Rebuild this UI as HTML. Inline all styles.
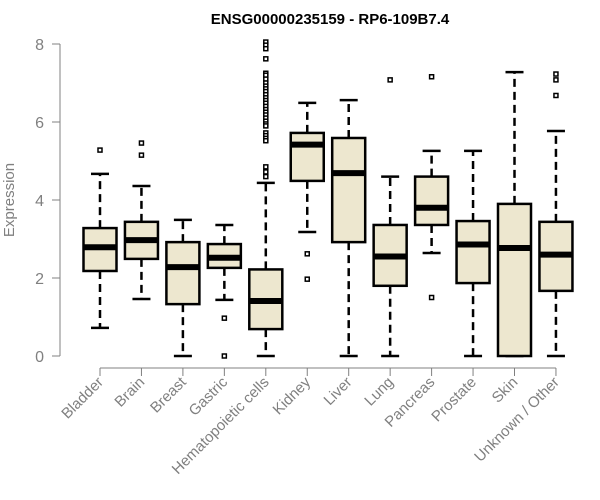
<!DOCTYPE html>
<html><head><meta charset="utf-8"><style>
body{margin:0;background:#fff;}
svg{display:block;font-family:"Liberation Sans",Arial,sans-serif;}
</style></head><body>
<svg id="chart" width="600" height="500">
<text x="330" y="24" text-anchor="middle" font-size="15" font-weight="bold">ENSG00000235159 - RP6-109B7.4</text>
<text transform="translate(14,200) rotate(-90)" text-anchor="middle" font-size="15" fill="#808080">Expression</text>
<g id="yaxis"></g>
<g id="xaxis"></g>
<g id="boxes"></g>
</svg>
<script>
const categories=["Bladder","Brain","Breast","Gastric","Hematopoietic cells","Kidney","Liver","Lung","Pancreas","Prostate","Skin","Unknown / Other"];
const whiskerLow=[0.72,1.46,0,1.44,0,3.18,0,0,2.64,0,0,0];
const q1=[2.18,2.49,1.33,2.26,0.69,4.49,2.92,1.8,3.36,1.87,0,1.67];
const medians=[2.79,2.97,2.28,2.52,1.41,5.42,4.69,2.55,3.8,2.86,2.77,2.6];
const q3=[3.28,3.44,2.92,2.87,2.22,5.72,5.59,3.36,4.6,3.46,3.9,3.44];
const whiskerHigh=[4.67,4.36,3.49,3.36,4.44,6.49,6.56,4.6,5.26,5.26,7.28,5.77];
const outliers=[[5.28],[5.46,5.15],[],[0.97,0],[8.05,7.97,7.88,7.62,7.25,7.2,7.1,7.0,6.92,6.85,6.78,6.7,6.62,6.55,6.48,6.4,6.32,6.25,6.18,6.1,6.02,5.95,5.9,5.72,5.65,5.58,5.52,4.85,4.72,4.6],[2.62,1.97],[],[7.08],[7.16,1.5],[],[],[7.23,7.08,6.68]];
const yTicks=[0,2,4,6,8];
const NS="http://www.w3.org/2000/svg";
const y=v=>356-v*39;
const x=i=>100+i*41.45;
function mk(tag,attrs,parent){const e=document.createElementNS(NS,tag);for(const k in attrs)e.setAttribute(k,attrs[k]);parent.appendChild(e);return e;}
const ya=document.getElementById('yaxis'),xa=document.getElementById('xaxis'),bx=document.getElementById('boxes');
mk('line',{x1:60,x2:60,y1:y(0),y2:y(8),stroke:'#808080','stroke-width':1},ya);
yTicks.forEach(t=>{
 mk('line',{x1:52,x2:60,y1:y(t),y2:y(t),stroke:'#808080'},ya);
 const tx=mk('text',{x:44,y:y(t)+6,'text-anchor':'end','font-size':16,fill:'#808080'},ya);tx.textContent=t;
 
 
});
mk('line',{x1:x(0),x2:x(11),y1:368,y2:368,stroke:'#808080'},xa);
categories.forEach((c,i)=>{
 mk('line',{x1:x(i),x2:x(i),y1:368,y2:376,stroke:'#808080'},xa);
 const t=mk('text',{transform:`translate(${x(i)+4},${383}) rotate(-45)`,'text-anchor':'end','font-size':15,fill:'#808080'},xa);t.textContent=c;
 
 
 const g=mk('g',{},bx);
 
 
 const cx=x(i);
 const dash={stroke:'#000','stroke-width':2.5,'stroke-dasharray':'8,5'};
 mk('line',Object.assign({x1:cx,x2:cx,y1:y(q3[i]),y2:y(whiskerHigh[i])},dash),g);
 mk('line',Object.assign({x1:cx,x2:cx,y1:y(q1[i]),y2:y(whiskerLow[i])},dash),g);
 mk('line',{x1:cx-9,x2:cx+9,y1:y(whiskerHigh[i]),y2:y(whiskerHigh[i]),stroke:'#000','stroke-width':2.5},g);
 mk('line',{x1:cx-9,x2:cx+9,y1:y(whiskerLow[i]),y2:y(whiskerLow[i]),stroke:'#000','stroke-width':2.5},g);
 mk('rect',{x:cx-16.5,y:y(q3[i]),width:33,height:y(q1[i])-y(q3[i]),fill:'#ede7cf',stroke:'#000','stroke-width':2.5},g);
 mk('line',{x1:cx-16.5,x2:cx+16.5,y1:y(medians[i]),y2:y(medians[i]),stroke:'#000','stroke-width':6},g);
 outliers[i].forEach(v=>{
  const o=mk('rect',{x:cx-2,y:y(v)-2,width:4,height:4,fill:'#fff',stroke:'#000','stroke-width':1.5},g);
  
  
 });
});
</script>
</body></html>
